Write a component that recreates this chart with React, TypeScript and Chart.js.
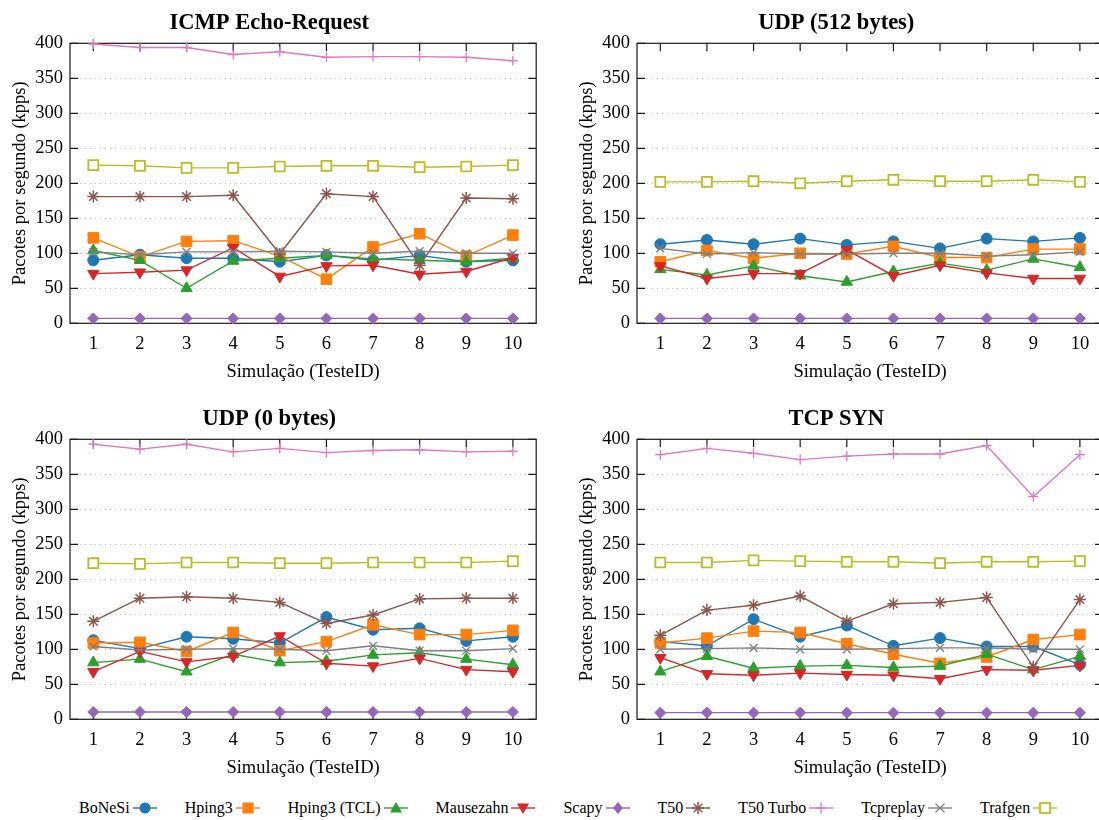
import React, { useEffect, useRef } from "react";
import { Chart, registerables } from "chart.js";

Chart.register(...registerables);

// ---------- data ----------
const CATEGORIES = ["1", "2", "3", "4", "5", "6", "7", "8", "9", "10"];
const SERIES_NAMES = ["BoNeSi", "Hping3", "Hping3 (TCL)", "Mausezahn", "Scapy", "T50", "T50 Turbo", "Tcpreplay", "Trafgen"];
const PANEL_TITLES = ["ICMP Echo-Request", "UDP (512 bytes)", "UDP (0 bytes)", "TCP SYN"];
const X_TITLE = "Simulação (TesteID)";
const Y_TITLE = "Pacotes por segundo (kpps)";
const Y_MIN = 0;
const Y_MAX = 400;
const Y_STEP = 50;

// ICMP Echo-Request
const ICMP_BONESI = [90, 98, 93, 93, 88, 97, 90, 97, 88, 90];
const ICMP_HPING3 = [122, 95, 117, 118, 96, 63, 109, 128, 96, 126];
const ICMP_HPING3_TCL = [104, 90, 50, 89, 93, 97, 92, 90, 88, 93];
const ICMP_MAUSEZAHN = [71, 73, 76, 108, 67, 82, 83, 70, 74, 94];
const ICMP_SCAPY = [7, 7, 7, 7, 7, 7, 7, 7, 7, 7];
const ICMP_T50 = [181, 181, 181, 183, 99, 185, 181, 83, 179, 178];
const ICMP_T50_TURBO = [399, 394, 394, 384, 388, 380, 381, 381, 380, 375];
const ICMP_TCPREPLAY = [102, 98, 102, 102, 103, 102, 100, 103, 100, 100];
const ICMP_TRAFGEN = [226, 225, 222, 222, 224, 225, 225, 223, 224, 226];

// UDP (512 bytes)
const UDP512_BONESI = [113, 119, 113, 121, 112, 117, 107, 121, 117, 122];
const UDP512_HPING3 = [88, 104, 93, 100, 99, 110, 94, 94, 106, 106];
const UDP512_HPING3_TCL = [77, 69, 82, 68, 59, 74, 86, 76, 92, 80];
const UDP512_MAUSEZAHN = [82, 64, 71, 71, 105, 68, 83, 72, 64, 64];
const UDP512_SCAPY = [7, 7, 7, 7, 7, 7, 7, 7, 7, 7];
const UDP512_T50: (number | null)[] = [];
const UDP512_T50_TURBO: (number | null)[] = [];
const UDP512_TCPREPLAY = [107, 99, 101, 99, 99, 100, 100, 96, 98, 102];
const UDP512_TRAFGEN = [202, 202, 203, 200, 203, 205, 203, 203, 205, 202];

// UDP (0 bytes)
const UDP0_BONESI = [113, 101, 118, 115, 109, 146, 128, 130, 112, 118];
const UDP0_HPING3 = [109, 110, 97, 124, 98, 111, 135, 121, 121, 127];
const UDP0_HPING3_TCL = [81, 86, 68, 93, 81, 83, 92, 95, 86, 78];
const UDP0_MAUSEZAHN = [68, 97, 82, 90, 119, 80, 76, 87, 71, 68];
const UDP0_SCAPY = [10.5, 10.5, 10.5, 10.5, 10.5, 10.5, 10.5, 10.5, 10.5, 10.5];
const UDP0_T50 = [140, 173, 175, 173, 167, 137, 149, 172, 173, 173];
const UDP0_T50_TURBO = [393, 386, 393, 382, 387, 381, 384, 385, 382, 383];
const UDP0_TCPREPLAY = [104, 99, 100, 101, 100, 98, 105, 98, 98, 101];
const UDP0_TRAFGEN = [223, 222, 224, 224, 223, 223, 224, 224, 224, 226];

// TCP SYN
const SYN_BONESI = [111, 105, 143, 118, 134, 105, 116, 104, 104, 78];
const SYN_HPING3 = [109, 116, 126, 124, 108, 93, 80, 89, 114, 121];
const SYN_HPING3_TCL = [68, 90, 73, 76, 77, 74, 76, 93, 71, 90];
const SYN_MAUSEZAHN = [88, 65, 63, 66, 64, 63, 58, 71, 70, 77];
const SYN_SCAPY = [9.5, 9.5, 9.5, 9.5, 9.5, 9.5, 9.5, 9.5, 9.5, 9.5];
const SYN_T50 = [120, 156, 163, 176, 140, 165, 167, 174, 75, 171];
const SYN_T50_TURBO = [378, 387, 380, 371, 376, 379, 379, 391, 318, 378];
const SYN_TCPREPLAY = [100, 101, 102, 100, 100, 101, 102, 102, 100, 100];
const SYN_TRAFGEN = [224, 224, 227, 226, 225, 225, 223, 225, 225, 226];

const PANEL_DATA = [
  [ICMP_BONESI, ICMP_HPING3, ICMP_HPING3_TCL, ICMP_MAUSEZAHN, ICMP_SCAPY, ICMP_T50, ICMP_T50_TURBO, ICMP_TCPREPLAY, ICMP_TRAFGEN],
  [UDP512_BONESI, UDP512_HPING3, UDP512_HPING3_TCL, UDP512_MAUSEZAHN, UDP512_SCAPY, UDP512_T50, UDP512_T50_TURBO, UDP512_TCPREPLAY, UDP512_TRAFGEN],
  [UDP0_BONESI, UDP0_HPING3, UDP0_HPING3_TCL, UDP0_MAUSEZAHN, UDP0_SCAPY, UDP0_T50, UDP0_T50_TURBO, UDP0_TCPREPLAY, UDP0_TRAFGEN],
  [SYN_BONESI, SYN_HPING3, SYN_HPING3_TCL, SYN_MAUSEZAHN, SYN_SCAPY, SYN_T50, SYN_T50_TURBO, SYN_TCPREPLAY, SYN_TRAFGEN],
];

// ---------- styles ----------
const COLORS = ["#1f77b4", "#ff7f0e", "#2ca02c", "#d62728", "#9467bd", "#8c564b", "#e377c2", "#7f7f7f", "#bcbd22"];
type Marker = { style: string; radius: number; rotation: number; filled: boolean; bw: number };
const MARKERS: Marker[] = [
  { style: "circle", radius: 5.5, rotation: 0, filled: true, bw: 1 },
  { style: "rect", radius: 7.5, rotation: 0, filled: true, bw: 1 },
  { style: "triangle", radius: 6.5, rotation: 0, filled: true, bw: 1 },
  { style: "triangle", radius: 6.5, rotation: 180, filled: true, bw: 1 },
  { style: "rectRot", radius: 5.5, rotation: 0, filled: true, bw: 1 },
  { style: "star", radius: 6, rotation: 0, filled: false, bw: 1.5 },
  { style: "cross", radius: 5, rotation: 0, filled: false, bw: 1.3 },
  { style: "crossRot", radius: 5.5, rotation: 0, filled: false, bw: 1.3 },
  { style: "rect", radius: 7, rotation: 0, filled: false, bw: 1.8 },
];
const SERIF = "'Liberation Serif', 'DejaVu Serif', serif";
const PANEL_POS = [
  { left: 0, top: 0 },
  { left: 567, top: 0 },
  { left: 0, top: 396 },
  { left: 567, top: 396 },
];
const CANVAS_W = 545;
const CANVAS_H = 390;

const framePlugin = {
  id: "gnuFrame",
  beforeDatasetsDraw(chart: any) {
    const { ctx, chartArea, scales } = chart;
    const { left, right, top, bottom } = chartArea;
    const x = scales.x;
    const y = scales.y;
    ctx.save();
    ctx.strokeStyle = "#1a1a1a";
    ctx.lineWidth = 1.2;
    ctx.beginPath();
    y.ticks.forEach((t: any) => {
      const py = y.getPixelForValue(t.value);
      ctx.moveTo(left, py);
      ctx.lineTo(left + 8, py);
      ctx.moveTo(right, py);
      ctx.lineTo(right - 8, py);
    });
    x.ticks.forEach((_t: any, i: number) => {
      const px = x.getPixelForTick(i);
      ctx.moveTo(px, top);
      ctx.lineTo(px, top + 8);
      ctx.moveTo(px, bottom);
      ctx.lineTo(px, bottom - 8);
    });
    ctx.stroke();
    ctx.strokeRect(left, top, right - left, bottom - top);
    ctx.restore();
  },
};

function Panel({ index }: { index: number }) {
  const ref = useRef<HTMLCanvasElement>(null);
  useEffect(() => {
    if (!ref.current) return;
    const values = PANEL_DATA[index];
    const tickFont = { family: SERIF, size: 18.5 };
    const chart = new Chart(ref.current, {
      type: "line",
      data: {
        labels: CATEGORIES,
        datasets: SERIES_NAMES.map((name, i) => ({
          label: name,
          data: values[i],
          borderColor: COLORS[i],
          backgroundColor: MARKERS[i].filled ? COLORS[i] : "#ffffff",
          pointBackgroundColor: MARKERS[i].filled ? COLORS[i] : "#ffffff",
          pointBorderColor: COLORS[i],
          pointStyle: MARKERS[i].style as any,
          pointRadius: MARKERS[i].radius,
          pointRotation: MARKERS[i].rotation,
          pointBorderWidth: MARKERS[i].bw,
          borderWidth: 1.4,
          tension: 0,
          clip: false as any,
          order: SERIES_NAMES.length - 1 - i,
        })),
      },
      options: {
        animation: false,
        responsive: false,
        devicePixelRatio: 1,
        layout: { padding: { left: 0, right: 6.5, top: 0, bottom: 0 } },
        plugins: {
          legend: { display: false },
          tooltip: { enabled: false },
          title: {
            display: true,
            text: PANEL_TITLES[index],
            color: "#000",
            font: { family: SERIF, size: 22.5, weight: "bold" },
            padding: { top: 10, bottom: 6.3 },
          },
        },
        scales: {
          x: {
            type: "category",
            offset: true,
            grid: { display: false, drawTicks: false },
            border: { display: false },
            ticks: { color: "#000", font: tickFont, padding: 9.6, maxRotation: 0, autoSkip: false },
            title: {
              display: true,
              text: X_TITLE,
              color: "#000",
              font: tickFont,
              padding: { top: 0, bottom: 6.5 },
            },
            afterFit: (s: any) => {
              s.height = 66.7;
            },
          },
          y: {
            min: Y_MIN,
            max: Y_MAX,
            grid: {
              drawTicks: false,
              lineWidth: 1,
              color: (c: any) =>
                c.tick && (c.tick.value === Y_MIN || c.tick.value === Y_MAX) ? "rgba(0,0,0,0)" : "#c8c8c8",
            },
            border: { display: false, dash: [1, 4] },
            ticks: { stepSize: Y_STEP, color: "#000", font: tickFont, padding: 7 },
            title: {
              display: true,
              text: Y_TITLE,
              color: "#000",
              font: tickFont,
              padding: { top: 9, bottom: 0 },
            },
            afterFit: (s: any) => {
              s.width = 70;
            },
          },
        },
      },
      plugins: [framePlugin],
    });
    return () => chart.destroy();
  }, [index]);
  const pos = PANEL_POS[index];
  return (
    <canvas
      ref={ref}
      width={CANVAS_W}
      height={CANVAS_H}
      style={{ position: "absolute", left: pos.left, top: pos.top, width: CANVAS_W, height: CANVAS_H }}
    />
  );
}

function LegendMarker({ i }: { i: number }) {
  const c = COLORS[i];
  const cx = 12;
  const cy = 8;
  let shape: React.ReactNode = null;
  switch (i) {
    case 0:
      shape = <circle cx={cx} cy={cy} r={5.5} fill={c} />;
      break;
    case 1:
      shape = <rect x={cx - 5.5} y={cy - 5.5} width={11} height={11} fill={c} />;
      break;
    case 2:
      shape = <polygon points={`${cx},${cy - 6} ${cx + 6},${cy + 4.5} ${cx - 6},${cy + 4.5}`} fill={c} />;
      break;
    case 3:
      shape = <polygon points={`${cx},${cy + 6} ${cx + 6},${cy - 4.5} ${cx - 6},${cy - 4.5}`} fill={c} />;
      break;
    case 4:
      shape = <polygon points={`${cx},${cy - 6} ${cx + 5},${cy} ${cx},${cy + 6} ${cx - 5},${cy}`} fill={c} />;
      break;
    case 5:
      shape = (
        <g stroke={c} strokeWidth={1.5}>
          <line x1={cx - 6} y1={cy} x2={cx + 6} y2={cy} />
          <line x1={cx} y1={cy - 6} x2={cx} y2={cy + 6} />
          <line x1={cx - 4.3} y1={cy - 4.3} x2={cx + 4.3} y2={cy + 4.3} />
          <line x1={cx - 4.3} y1={cy + 4.3} x2={cx + 4.3} y2={cy - 4.3} />
        </g>
      );
      break;
    case 6:
      shape = (
        <g stroke={c} strokeWidth={1.3}>
          <line x1={cx - 5.5} y1={cy} x2={cx + 5.5} y2={cy} />
          <line x1={cx} y1={cy - 5.5} x2={cx} y2={cy + 5.5} />
        </g>
      );
      break;
    case 7:
      shape = (
        <g stroke={c} strokeWidth={1.3}>
          <line x1={cx - 4.5} y1={cy - 4.5} x2={cx + 4.5} y2={cy + 4.5} />
          <line x1={cx - 4.5} y1={cy + 4.5} x2={cx + 4.5} y2={cy - 4.5} />
        </g>
      );
      break;
    default:
      shape = <rect x={cx - 5} y={cy - 5} width={10} height={10} fill="#fff" stroke={c} strokeWidth={1.8} />;
  }
  return (
    <svg width={24} height={16} style={{ display: "block" }}>
      <line x1={0} y1={cy} x2={24} y2={cy} stroke={c} strokeWidth={1.4} />
      {shape}
    </svg>
  );
}

function Legend() {
  return (
    <div
      style={{
        position: "absolute",
        left: 79,
        top: 799,
        display: "flex",
        alignItems: "center",
        gap: 28,
        fontFamily: SERIF,
        fontSize: 16,
        color: "#000",
        whiteSpace: "nowrap",
      }}
    >
      {SERIES_NAMES.map((name, i) => (
        <div key={name} style={{ display: "flex", alignItems: "center", gap: 3 }}>
          <span>{name}</span>
          <LegendMarker i={i} />
        </div>
      ))}
    </div>
  );
}

export default function App() {
  return (
    <div
      style={{
        position: "fixed",
        left: 0,
        top: 0,
        width: 1099,
        height: 820,
        overflow: "hidden",
        background: "#fff",
      }}
    >
      {[0, 1, 2, 3].map((i) => (
        <Panel key={i} index={i} />
      ))}
      <Legend />
    </div>
  );
}
